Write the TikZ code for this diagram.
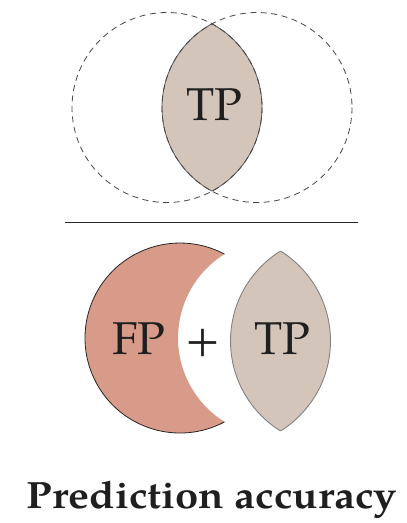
\documentclass[tikz,border=0pt]{standalone}
\usepackage{fontspec}
\setmainfont{texgyrepagella}[Extension=.otf, UprightFont=*-regular, BoldFont=*-bold]
\definecolor{lenscol}{RGB}{212,197,187}
\definecolor{cresccol}{RGB}{217,155,137}
\definecolor{lensline}{RGB}{130,130,130}
\definecolor{dashcol}{RGB}{70,70,70}
\tikzset{
  lbl/.style={inner sep=0pt, font=\fontsize{46}{46}\selectfont, text=black!88},
  dashcirc/.style={draw=dashcol, line width=0.8pt, dash pattern=on 6pt off 4.5pt},
}
\begin{document}
\begin{tikzpicture}[x=1pt,y=-1pt]
\useasboundingbox (0,0) rectangle (407,523);
% ---- top: overlapping circles
\begin{scope}
  \clip (167,107.5) circle (95);
  \fill[lenscol] (257,107.5) circle (95);
\end{scope}
\begin{scope}
  \clip (167,107.5) circle (95);
  \draw[lensline!70!black, line width=0.8pt] (257,107.5) circle (95);
\end{scope}
\begin{scope}
  \clip (257,107.5) circle (95);
  \draw[lensline!70!black, line width=0.8pt] (167,107.5) circle (95);
\end{scope}
\draw[dashcirc] (167,107.5) circle (95);
\draw[dashcirc] (257,107.5) circle (95);
\node[lbl, anchor=base] (tp1) at (214.5,120) {TP};
% ---- fraction line
\coordinate (la) at (65,222.3);
\coordinate (lb) at (357.7,222.3);
\draw[line width=1.2pt, black!85] (la) -- (lb);
% ---- crescent
\fill[cresccol] (180,338) ++(62.06:95) arc[start angle=62.06, end angle=297.94, radius=95]
   arc[start angle=237.96, end angle=122.04, radius=99] -- cycle;
\draw[black!85, line width=0.8pt] (180,338) ++(62.06:95) arc[start angle=62.06, end angle=297.94, radius=95];
% ---- bottom lens
\begin{scope}
  \clip (224.5,341) circle (106);
  \fill[lenscol] (336.5,341) circle (106);
\end{scope}
\begin{scope}
  \clip (224.5,341) circle (106);
  \draw[lensline, line width=0.9pt] (336.5,341) circle (106);
\end{scope}
\begin{scope}
  \clip (336.5,341) circle (106);
  \draw[lensline, line width=0.9pt] (224.5,341) circle (106);
\end{scope}
\node[lbl, anchor=base] (fp) at (139,354.3) {FP};
\node[lbl, anchor=center] (plus) at (203.4,343) {+};
\node[lbl, anchor=base] (tp2) at (282.7,354.3) {TP};
% ---- title
\node[inner sep=0pt, anchor=base, xscale=1.1, font=\fontsize{38}{38}\selectfont\bfseries, text=black!88] (title) at (212,508) {Prediction accuracy};
\end{tikzpicture}
\end{document}
